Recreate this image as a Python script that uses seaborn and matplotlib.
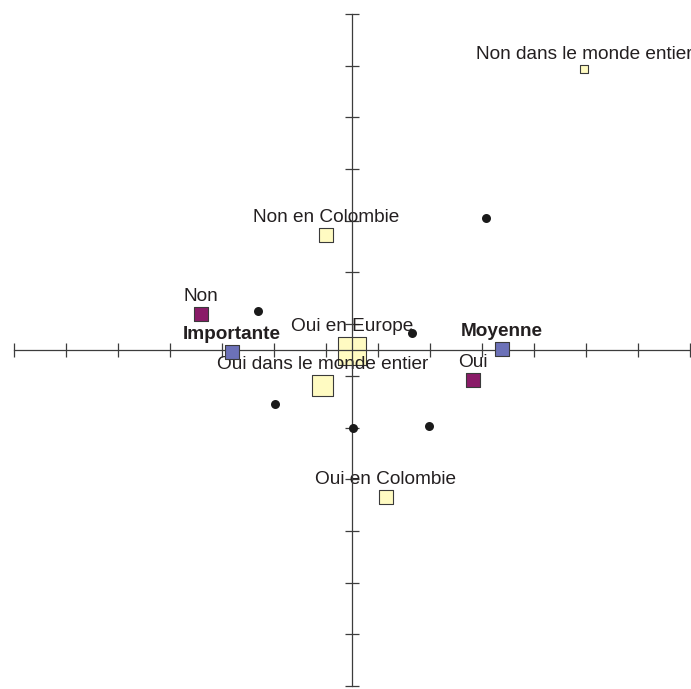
import matplotlib
matplotlib.use("Agg")
import matplotlib.pyplot as plt
import seaborn as sns
import pandas as pd
import numpy as np

# ── Data (factor coordinates) ────────────────────────────────────────────────
pays_labels = ["Non dans le monde entier", "Non en Colombie", "Oui en Europe",
               "Oui dans le monde entier", "Oui en Colombie"]
pays_x = [4.46, -0.50, 0.00, -0.56, 0.65]
pays_y = [5.44, 2.22, -0.02, -0.68, -2.84]
pays_w = [0.3, 1.0, 4.0, 2.3, 1.0]          # relative weights -> square size

rep_labels = ["Non", "Oui"]
rep_x = [-2.90, 2.33]
rep_y = [0.70, -0.58]

niv_labels = ["Importante", "Moyenne"]
niv_x = [-2.31, 2.88]
niv_y = [-0.04, 0.02]

obs_x = [-1.81, 2.58, 1.15, -1.48, 0.02, 1.48]
obs_y = [0.75, 2.55, 0.33, -1.04, -1.51, -1.47]

YELLOW = "#FFFBC2"
PURPLE = "#8A1B68"
BLUE = "#6C71B8"
EDGE = "#3A3A3A"
TXT = "#231F20"
AXIS = "#3C3C3C"

sns.set_theme(style="white")
plt.rcParams["font.family"] = ["Liberation Sans", "DejaVu Sans"]

fig = plt.figure(figsize=(6.91, 6.89), dpi=100)
ax = fig.add_axes([0, 0, 1, 1])
ax.set_xlim(-6.77, 6.52)
ax.set_ylim(-6.557, 6.77)

px = 0.72  # points per pixel at 100 dpi

pays = pd.DataFrame({"x": pays_x, "y": pays_y, "w": pays_w, "label": pays_labels})
side_px = 14 * np.sqrt(pays["w"].to_numpy())
sns.scatterplot(data=pays, x="x", y="y", marker="s", s=(side_px * px) ** 2,
                color=YELLOW, edgecolor=EDGE, linewidth=0.8, ax=ax, zorder=2,
                legend=False)

rep = pd.DataFrame({"x": rep_x, "y": rep_y})
sns.scatterplot(data=rep, x="x", y="y", marker="s", s=(14 * px) ** 2,
                color=PURPLE, edgecolor=EDGE, linewidth=0.8, ax=ax, zorder=3,
                legend=False)

niv = pd.DataFrame({"x": niv_x, "y": niv_y})
sns.scatterplot(data=niv, x="x", y="y", marker="s", s=(14 * px) ** 2,
                color=BLUE, edgecolor=EDGE, linewidth=0.8, ax=ax, zorder=3,
                legend=False)

obs = pd.DataFrame({"x": obs_x, "y": obs_y})
sns.scatterplot(data=obs, x="x", y="y", marker="o", s=(9 * px) ** 2,
                color="#1A1A1A", edgecolor="#1A1A1A", linewidth=0, ax=ax,
                zorder=3, legend=False)

# labels centred above each square
def label(xs, ys, names, sides, bold=False):
    for x, y, name, side in zip(xs, ys, names, sides):
        ax.annotate(name, (x, y), xytext=(0, side / 2 + 2), textcoords="offset pixels",
                    ha="center", va="bottom", fontsize=13.7, color=TXT,
                    fontweight="bold" if bold else "normal", zorder=2,
                    annotation_clip=False)

label(pays_x, pays_y, pays_labels, side_px)
label(rep_x, rep_y, rep_labels, [14, 14])
label(niv_x, niv_y, niv_labels, [14, 14], bold=True)

# ── Axes crossing at the origin ──────────────────────────────────────────────
ticks = np.arange(-6.5, 6.6, 1.0)
for side in ["top", "right"]:
    ax.spines[side].set_visible(False)
for side in ["left", "bottom"]:
    sp = ax.spines[side]
    sp.set_position(("data", 0))
    sp.set_bounds(-6.5, 6.5)
    sp.set_color(AXIS)
    sp.set_linewidth(0.9)
    sp.set_zorder(2.5)
ax.set_xticks(ticks)
ax.set_yticks(ticks)
ax.set_xticklabels([])
ax.set_yticklabels([])
ax.tick_params(axis="both", direction="inout", length=10, width=0.9,
               color=AXIS, bottom=True, left=True)
ax.set_xlabel("")
ax.set_ylabel("")
ax.patch.set_alpha(0)

fig.savefig("out.png", dpi=100, facecolor="white")
